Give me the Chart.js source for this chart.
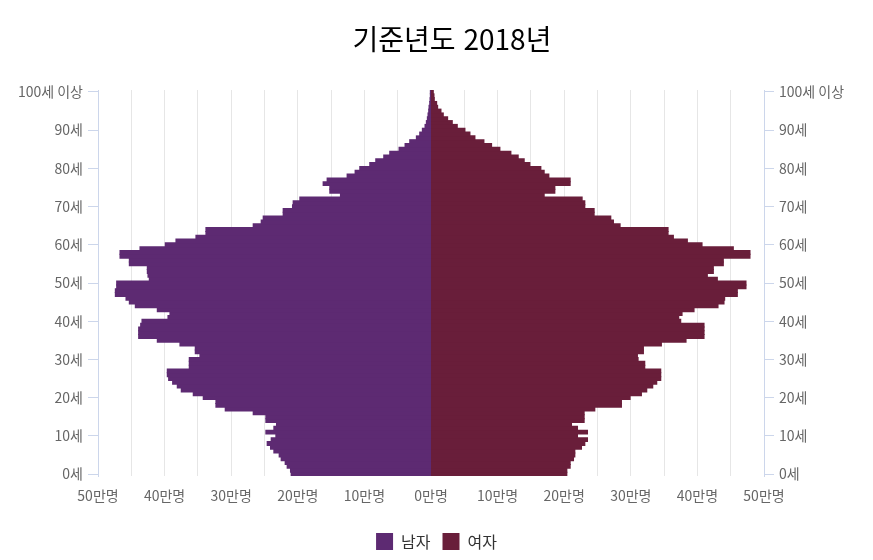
<!DOCTYPE html>
<html lang="ko">
<head>
<meta charset="utf-8">
<script src="https://cdn.jsdelivr.net/npm/chart.js@4.4.1/dist/chart.umd.min.js"></script>
<style>
  html, body { margin: 0; padding: 0; background: #fff; overflow: hidden; }
  #wrap { position: relative; width: 873px; height: 560px; }
  #title {
    position: absolute; top: 18px; left: 0; width: 904px;
    text-align: center; color: #000; line-height: 36px;
    font: 28px 'Noto Sans CJK KR', sans-serif;
  }
</style>
</head>
<body>
<div id="wrap">
  <div id="title">기준년도 2018년</div>
  <canvas id="pyramid" width="873" height="560"></canvas>
</div>
<script>
// age categories, 0세 .. 100세 이상
const ages = [];
for (let i = 0; i <= 100; i++) ages.push(i === 100 ? '100세 이상' : i + '세');

// population in 만명, index = age
const male = [
  21.0, 21.1, 21.6, 21.9, 22.5, 22.8, 23.6, 24.1, 24.6, 24.0,
  23.3, 24.8, 23.6, 23.2, 24.8, 24.8, 26.7, 30.9, 32.3, 32.3,
  34.2, 35.7, 37.5, 38.1, 38.8, 39.4, 39.6, 39.6, 36.3, 36.3,
  36.3, 34.7, 35.4, 35.4, 37.7, 41.1, 43.9, 43.9, 43.9, 43.6,
  43.4, 39.5, 39.2, 41.1, 44.4, 45.3, 45.8, 47.4, 47.4, 47.2,
  47.2, 42.3, 42.5, 42.6, 42.6, 45.3, 45.3, 46.7, 46.7, 43.7,
  39.9, 38.3, 35.3, 33.8, 33.8, 26.7, 25.5, 25.2, 22.2, 22.2,
  20.8, 20.7, 19.7, 13.6, 15.2, 15.2, 16.2, 15.6, 12.6, 11.4,
  10.7, 9.2, 8.3, 7.1, 6.2, 4.8, 3.9, 3.2, 2.2, 1.7,
  1.3, 0.9, 0.7, 0.55, 0.45, 0.35, 0.3, 0.2, 0.15, 0.1,
  0.1
];
const female = [
  20.4, 20.4, 20.9, 20.9, 21.4, 21.6, 21.6, 22.6, 23.1, 23.5,
  22.0, 23.5, 22.0, 21.1, 23.0, 23.0, 23.0, 24.6, 28.6, 28.6,
  29.9, 31.6, 32.4, 33.3, 33.9, 34.5, 34.5, 34.5, 32.1, 32.1,
  31.1, 31.0, 31.9, 31.9, 34.6, 38.3, 41.0, 41.0, 41.0, 41.0,
  37.5, 37.2, 37.7, 39.5, 43.1, 44.0, 44.1, 46.0, 46.0, 47.3,
  47.3, 43.0, 41.5, 42.4, 42.4, 43.9, 43.9, 47.9, 47.9, 45.4,
  40.7, 38.5, 36.4, 35.6, 35.6, 28.4, 27.4, 27.0, 24.5, 24.5,
  23.1, 23.1, 22.7, 17.0, 18.6, 18.6, 20.9, 20.9, 17.7, 17.0,
  16.5, 14.85, 14.0, 13.1, 12.0, 10.35, 9.1, 7.95, 6.6, 5.85,
  5.1, 3.95, 3.2, 2.5, 1.85, 1.5, 1.0, 0.85, 0.5, 0.45,
  0.35
];

const ageTicks = [0, 10, 20, 30, 40, 50, 60, 70, 80, 90, 100];
const ageTickLabels = ['0세', '10세', '20세', '30세', '40세', '50세', '60세', '70세', '80세', '90세', '100세 이상'];
// grid every 5만명, label every 10만명
const popGrid = [-50, -45, -40, -35, -30, -25, -20, -15, -10, -5, 0, 5, 10, 15, 20, 25, 30, 35, 40, 45, 50];

const axisColor = '#ccd6eb';
const fontFamily = "'Noto Sans CJK KR', sans-serif";

function ageAxis(position, width) {
  return {
    type: 'linear',
    position: position,
    min: -0.5,
    max: 100.5,
    offset: false,
    afterBuildTicks: s => { s.ticks = ageTicks.map(v => ({ value: v })); },
    afterFit: s => { s.width = width; },
    grid: { offset: false, drawOnChartArea: false, drawTicks: true, tickLength: 10, color: axisColor },
    border: { color: axisColor },
    ticks: {
      autoSkip: false, padding: 5, color: '#666666',
      font: { family: fontFamily, size: 14 },
      callback: (v, i) => ageTickLabels[i]
    }
  };
}

new Chart('pyramid', {
  type: 'bar',
  data: {
    labels: ages,
    datasets: [
      { label: '남자', data: male.map(v => -v * 10000), backgroundColor: '#5d2a72' },
      { label: '여자', data: female.map(v => v * 10000), backgroundColor: '#691e3a' }
    ]
  },
  options: {
    indexAxis: 'y',
    responsive: false,
    animation: false,
    layout: { padding: { top: 90, left: 0, right: 0, bottom: 0 } },
    datasets: { bar: { categoryPercentage: 1, barPercentage: 1, inflateAmount: 0.5 } },
    scales: {
      x: {
        stacked: true,
        min: -500000,
        max: 500000,
        afterBuildTicks: s => { s.ticks = popGrid.map(v => ({ value: v * 10000 })); },
        afterFit: s => { s.height = 45; },
        grid: { color: '#e6e6e6', drawTicks: false },
        border: { display: false },
        ticks: {
          autoSkip: false, maxRotation: 0, padding: 11, color: '#666666',
          font: { family: fontFamily, size: 14 },
          callback: v => v % 100000 === 0 ? Math.abs(v) / 10000 + '만명' : ''
        }
      },
      y: { display: false, stacked: true, reverse: true },
      yl: ageAxis('left', 98),
      yr: ageAxis('right', 109)
    },
    plugins: {
      title: { display: false },
      tooltip: { enabled: false },
      legend: {
        position: 'bottom',
        labels: {
          boxWidth: 17, boxHeight: 17, padding: 12, color: '#333333',
          font: { family: fontFamily, size: 16 }
        }
      }
    }
  }
});
</script>
</body>
</html>
